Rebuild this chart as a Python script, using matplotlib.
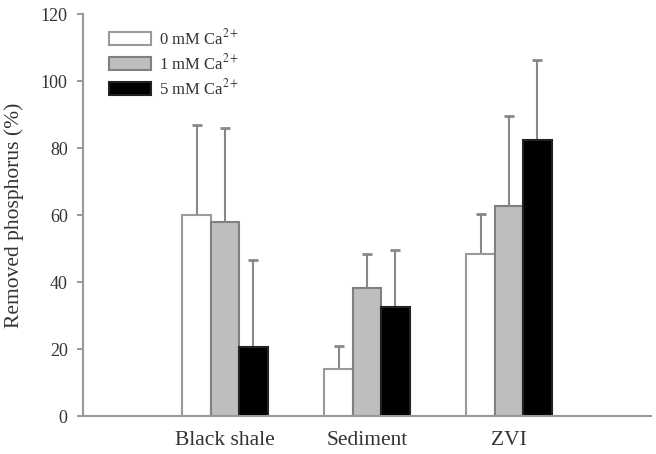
import numpy as np
import matplotlib
matplotlib.use('Agg')
import matplotlib.pyplot as plt

plt.rcParams['font.family'] = ['Liberation Serif', 'DejaVu Serif']
plt.rcParams['mathtext.fontset'] = 'stix'

categories = ['Black shale', 'Sediment', 'ZVI']
series_labels = ['0 mM Ca$^{2+}$', '1 mM Ca$^{2+}$', '5 mM Ca$^{2+}$']
means_0mM = [60, 14, 48.3]
means_1mM = [58, 38.3, 62.6]
means_5mM = [20.6, 32.7, 82.4]
err_0mM = [27, 7, 12]
err_1mM = [28, 10, 27]
err_5mM = [26, 17, 24]

fig = plt.figure(figsize=(6.56, 4.54), dpi=100)
ax = fig.add_axes([0.1265, 0.0837, 0.866, 0.885])

x = np.arange(1, len(categories) + 1)
width = 0.2
fills = ['white', '#bebebe', 'black']
edges = ['#9a9a9a', '#808080', '#222222']
means = [means_0mM, means_1mM, means_5mM]
errs = [err_0mM, err_1mM, err_5mM]

for i in range(3):
    pos = x + (i - 1) * width
    ax.bar(pos, means[i], width, color=fills[i], edgecolor=edges[i],
           linewidth=1.5, label=series_labels[i], zorder=2)
    ax.errorbar(pos, means[i], yerr=[np.zeros(3), errs[i]], fmt='none',
                ecolor='#888888', elinewidth=1.5, capsize=3.5, capthick=2, zorder=1)

ax.set_xlim(0, 4)
ax.set_ylim(0, 120)
ax.set_yticks(range(0, 121, 20))
ax.set_xticks(x)
ax.set_xticklabels(categories, fontsize=15.5, color='#333333')
ax.tick_params(axis='x', length=0, pad=11)
ax.tick_params(axis='y', labelsize=13, labelcolor='#333333', color='#888888',
               length=4, width=1.2, pad=7)
ax.set_ylabel('Removed phosphorus (%)', fontsize=15.5, color='#333333', labelpad=12)

for s in ['top', 'right']:
    ax.spines[s].set_visible(False)
for s in ['left', 'bottom']:
    ax.spines[s].set_color('#999999')
    ax.spines[s].set_linewidth(1.5)

ax.legend(loc='upper left', bbox_to_anchor=(0.046, 0.965), frameon=False,
          borderpad=0, borderaxespad=0, fontsize=12, handlelength=2.5,
          handleheight=0.9, labelspacing=0.3, handletextpad=0.5,
          labelcolor='#333333')

fig.savefig('out.png', dpi=100)
